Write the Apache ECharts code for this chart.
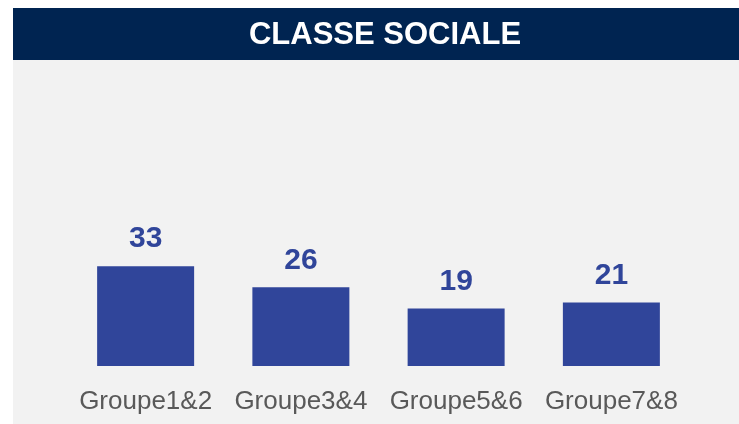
<!DOCTYPE html>
<html>
<head>
<meta charset="utf-8">
<script src="https://cdn.jsdelivr.net/npm/echarts@6/dist/echarts.min.js"></script>
<style>
  html, body { margin: 0; padding: 0; background: #fff; }
  #chart { width: 739px; height: 424px; }
</style>
</head>
<body>
<div id="chart"></div>
<script>
var categories = ["Groupe1&2", "Groupe3&4", "Groupe5&6", "Groupe7&8"];
var values = [33, 26, 19, 21];
var titleText = "CLASSE SOCIALE";

var myChart = echarts.init(document.getElementById("chart"));
var option = {
  backgroundColor: "#ffffff",
  animation: false,
  graphic: [
    {
      type: "rect",
      shape: { x: 13, y: 60, width: 726, height: 364 },
      style: { fill: "#f2f2f2" },
      z: -10,
    },
    {
      type: "rect",
      shape: { x: 13, y: 8, width: 726, height: 52 },
      style: { fill: "#002451" },
      z: -10,
    },
    {
      type: "text",
      x: 385,
      y: 35,
      style: {
        text: titleText,
        fill: "#ffffff",
        font: "bold 31px 'Liberation Sans', Arial, sans-serif",
        textAlign: "center",
        textVerticalAlign: "middle",
      },
    },
  ],
  grid: {
    left: 68,
    right: 50,
    top: 245,
    bottom: 58,
  },
  xAxis: {
    type: "category",
    data: categories,
    axisLine: { show: false },
    axisTick: { show: false },
    axisLabel: {
      interval: 0,
      color: "#595959",
      fontSize: 26,
      fontFamily: "Liberation Sans, Arial, sans-serif",
      margin: 23,
    },
  },
  yAxis: {
    type: "value",
    min: 0,
    max: 40,
    show: false,
    splitLine: { show: false },
  },
  series: [
    {
      type: "bar",
      data: values,
      barWidth: 97,
      itemStyle: { color: "#30459A" },
      label: {
        show: true,
        position: "top",
        distance: 12,
        color: "#30459A",
        fontSize: 30,
        fontWeight: "bold",
        fontFamily: "Liberation Sans, Arial, sans-serif",
      },
    },
  ],
};
myChart.setOption(option);
</script>
</body>
</html>
